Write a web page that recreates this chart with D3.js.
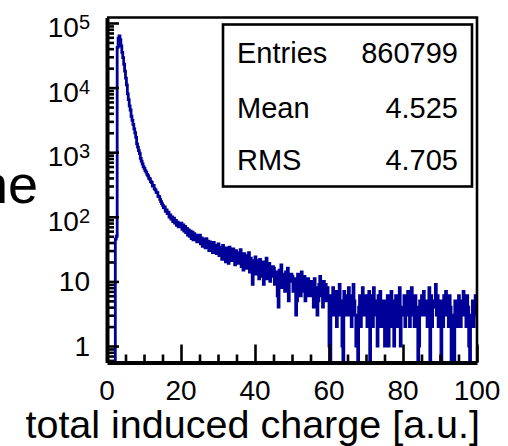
<!DOCTYPE html>
<html>
<head>
<meta charset="utf-8">
<script src="https://cdn.jsdelivr.net/npm/d3@7"></script>
<style>
  body { margin: 0; background: #fff; }
  svg { display: block; font-family: "Liberation Sans", Arial, sans-serif; }
</style>
</head>
<body>
<svg width="508" height="446"></svg>
<script>
// histogram: 400 bins of 0.25 over [0, 100], one row = 5 units
const xRange = [0, 100];
const binCounts = [
  0, 0, 0, 0, 0, 0, 0, 0, 0, 45, 50, 42000, 58000, 63000, 55000, 44000, 35000, 29000, 23000, 18000,
  14000, 11000, 8000, 6500, 5200, 4500, 3600, 3100, 2700, 2300, 2000, 1700, 1350, 1200, 1060, 950, 800, 730, 660, 600,
  560, 520, 490, 455, 430, 395, 385, 350, 340, 300, 305, 270, 262, 240, 236, 208, 205, 186, 172, 160,
  150, 138, 142, 121, 128, 112, 118, 99, 107, 92, 100, 84, 95, 80, 88, 74, 83, 70, 79, 72,
  80, 64, 75, 60, 71, 57, 66, 52, 63, 50, 60, 46, 58, 44, 55, 49, 52, 41, 50, 44,
  52, 38, 47, 35, 45, 40, 33, 46, 36, 42, 30, 41, 34, 39, 28, 40, 31, 36, 27, 35,
  38, 25, 34, 28, 22, 36, 26, 31, 20, 33, 27, 19, 34, 24, 29, 21, 32, 25, 18, 30,
  28, 19, 26, 21, 31, 17, 24, 15, 27, 22, 16, 25, 19, 28, 14, 23, 18, 9, 21, 17,
  24, 13, 21, 16, 11, 22, 17, 12, 20, 9, 18, 14, 23, 11, 16, 19, 10, 15, 12, 17,
  16, 9, 14, 12, 6, 4, 15, 11, 18, 8, 13, 10, 7, 14, 9, 16, 5, 12, 10, 13,
  12, 7, 11, 9, 3, 5, 13, 8, 10, 6, 14, 9, 7, 12, 5, 10, 8, 11, 6, 9,
  10, 6, 9, 4, 11, 7, 8, 3, 5, 9, 12, 6, 8, 4, 10, 7, 9, 5, 8, 6,
  1, 0, 6, 4, 8, 3, 5, 7, 2, 6, 4, 9, 3, 5, 1, 0, 7, 4, 6, 3,
  5, 8, 3, 6, 2, 4, 9, 5, 3, 1, 3, 0, 4, 6, 2, 5, 8, 3, 4, 6,
  3, 2, 5, 7, 0, 4, 6, 2, 8, 5, 3, 4, 1, 6, 3, 7, 2, 5, 4, 3,
  1, 5, 3, 6, 1, 4, 2, 7, 3, 5, 1, 4, 6, 2, 5, 3, 8, 1, 4, 3,
  4, 6, 2, 5, 3, 7, 4, 2, 6, 8, 3, 5, 2, 6, 4, 3, 0, 1, 5, 3,
  6, 4, 7, 3, 5, 4, 2, 4, 8, 0, 6, 2, 5, 5, 4, 9, 3, 6, 2, 4,
  5, 0, 3, 2, 6, 4, 7, 3, 5, 2, 6, 4, 0, 3, 1, 0, 5, 3, 4, 2,
  6, 3, 2, 5, 4, 7, 3, 5, 2, 6, 4, 1, 0, 2, 3, 5, 2, 4, 6, 3
];
const xMajorTicks = [0, 20, 40, 60, 80, 100];
const yDecades = [1, 10, 100, 1000, 10000, 100000];
const yDecadeExp = ['', '', '2', '3', '4', '5'];
const yDecadeBase = ['1', '10', '10', '10', '10', '10'];
const statLabels = ['Entries', 'Mean', 'RMS'];
const statValues = ['860799', '4.525', '4.705'];
const xTitle = 'total induced charge [a.u.]';

const svg = d3.select('svg');
const frame = {left: 107, right: 477, top: 17.5, bottom: 362.5};
const yMin = 0.556, yMax = 1.216e5;

const xScale = d3.scaleLinear().domain(xRange).range([frame.left, frame.right]);
const yScale = d3.scaleLog().domain([yMin, yMax]).range([frame.bottom, frame.top]);

// stray text from neighbouring panel
svg.append('text')
    .attr('x', 38).attr('y', 203)
    .attr('text-anchor', 'end')
    .attr('font-size', 54)
    .text('ne');

svg.append('clipPath').attr('id', 'clip')
  .append('rect')
    .attr('x', frame.left).attr('y', frame.top)
    .attr('width', frame.right - frame.left)
    .attr('height', frame.bottom - frame.top);

// histogram outline
const binWidth = (xRange[1] - xRange[0]) / binCounts.length;
const pts = binCounts.map((c, i) => ({x: xRange[0] + i * binWidth, c}));
pts.push({x: xRange[1], c: binCounts[binCounts.length - 1]});

const line = d3.line()
    .x(d => xScale(d.x))
    .y(d => yScale(Math.max(d.c, yMin)))
    .curve(d3.curveStepAfter);

svg.append('path')
    .datum(pts)
    .attr('clip-path', 'url(#clip)')
    .attr('fill', 'none')
    .attr('stroke', '#000099')
    .attr('stroke-width', 2.8)
    .attr('d', line);

// frame top / right
svg.append('path')
    .attr('d', `M${frame.left},${frame.top}H${frame.right}V${frame.bottom}`)
    .attr('fill', 'none')
    .attr('stroke', 'black')
    .attr('stroke-width', 2.6);

// x axis
const xMinor = d3.range(5, 100, 5).filter(v => v % 20 !== 0);
const xAxisG = svg.append('g')
    .attr('transform', `translate(0,${frame.bottom})`)
    .call(d3.axisBottom(xScale).tickValues(xMajorTicks).tickSize(-18).tickSizeOuter(0).tickFormat(''));
xAxisG.append('g')
    .call(d3.axisBottom(xScale).tickValues(xMinor).tickSize(-8).tickSizeOuter(0).tickFormat(''))
    .select('.domain').remove();
xAxisG.selectAll('.tick line').attr('stroke', 'black').attr('stroke-width', 2.6);
xAxisG.select('.domain').attr('stroke', 'black').attr('stroke-width', 4);

svg.selectAll('.xlab').data(xMajorTicks)
  .enter().append('text')
    .attr('class', 'xlab')
    .attr('x', d => xScale(d))
    .attr('y', 400)
    .attr('text-anchor', 'middle')
    .attr('font-size', 28)
    .text(d => d);

svg.append('text')
    .attr('x', 480).attr('y', 438)
    .attr('text-anchor', 'end')
    .attr('font-size', 39.5)
    .text(xTitle);

// y axis
const yMinor = [];
[0.1, 1, 10, 100, 1000, 10000].forEach(dec => {
  for (let k = 2; k <= 9; k++) {
    const v = dec * k;
    if (v > yMin && v < yMax) yMinor.push(v);
  }
});
const yAxisG = svg.append('g')
    .attr('transform', `translate(${frame.left},0)`)
    .call(d3.axisLeft(yScale).tickValues(yDecades).tickSize(-12).tickSizeOuter(0).tickFormat(''));
yAxisG.append('g')
    .call(d3.axisLeft(yScale).tickValues(yMinor).tickSize(-7).tickSizeOuter(0).tickFormat(''))
    .select('.domain').remove();
yAxisG.selectAll('.tick line').attr('stroke', 'black').attr('stroke-width', 2.6);
yAxisG.select('.domain').attr('stroke', 'black').attr('stroke-width', 4);

const yLab = svg.selectAll('.ylab').data(yDecades)
  .enter().append('text')
    .attr('class', 'ylab')
    .attr('x', 90)
    .attr('y', (d, i) => yScale(d) + (yDecadeExp[i] ? 14 : 10))
    .attr('text-anchor', 'end')
    .attr('font-size', 28);
yLab.append('tspan').text((d, i) => yDecadeBase[i]);
yLab.filter((d, i) => yDecadeExp[i] !== '')
  .append('tspan')
    .attr('dy', -8)
    .attr('font-size', 20)
    .text(d => yDecadeExp[yDecades.indexOf(d)]);

// stats box
const box = {x: 223, y: 24.5, w: 249, h: 162};
svg.append('rect')
    .attr('x', box.x).attr('y', box.y)
    .attr('width', box.w).attr('height', box.h)
    .attr('fill', 'white')
    .attr('stroke', 'black')
    .attr('stroke-width', 2.6);
const rowY = [63, 118, 170];
svg.selectAll('.slab').data(statLabels)
  .enter().append('text')
    .attr('class', 'slab')
    .attr('x', 237)
    .attr('y', (d, i) => rowY[i])
    .attr('font-size', 29)
    .text(d => d);
svg.selectAll('.sval').data(statValues)
  .enter().append('text')
    .attr('class', 'sval')
    .attr('x', 458)
    .attr('y', (d, i) => rowY[i])
    .attr('text-anchor', 'end')
    .attr('font-size', 29)
    .text(d => d);
</script>
</body>
</html>
